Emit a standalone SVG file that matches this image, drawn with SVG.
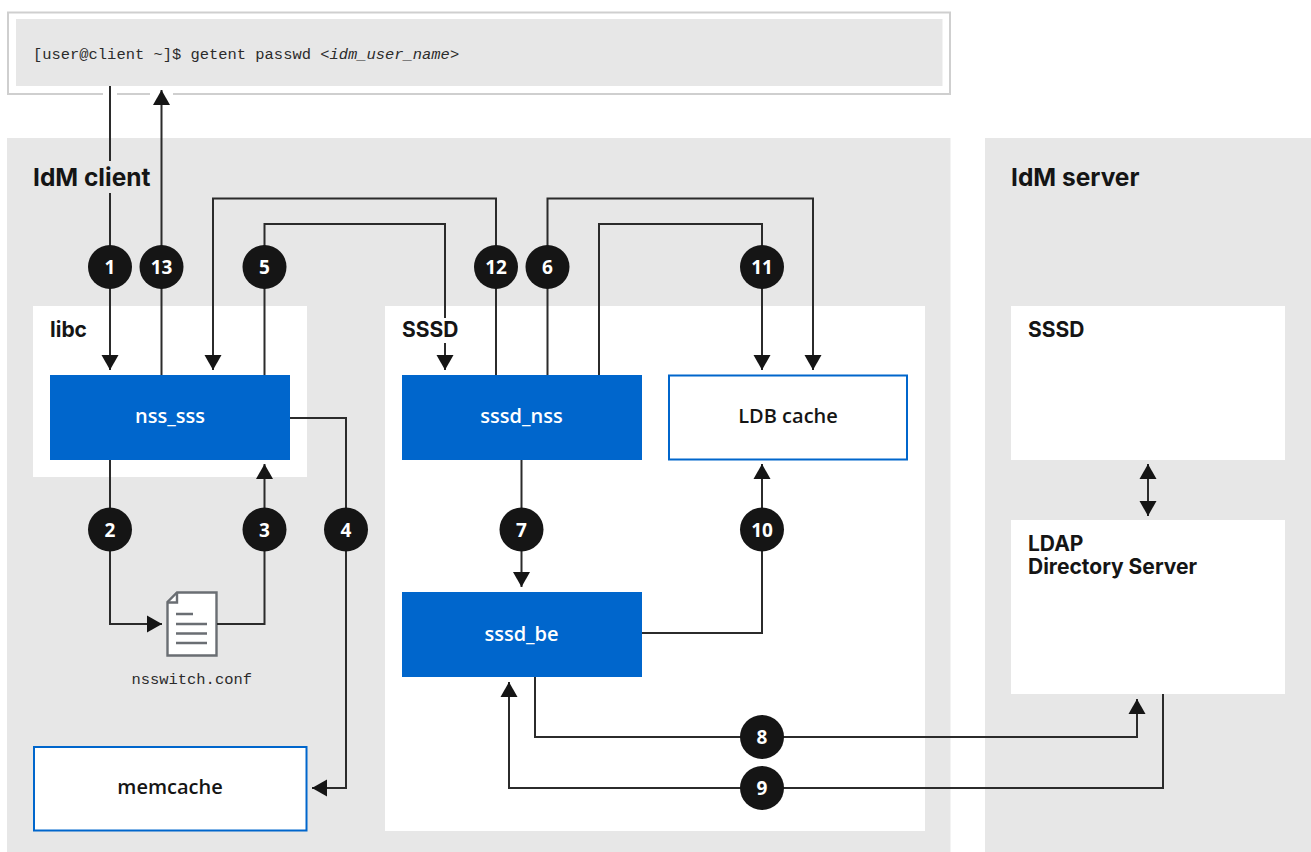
<svg xmlns="http://www.w3.org/2000/svg" width="1311" height="852" viewBox="0 0 1311 852">
<style>
.panel{fill:#e7e7e7}
.white{fill:#fff}
.blue{fill:#0066cc}
.outl{fill:#fff;stroke:#0066cc;stroke-width:2}
.c{fill:none;stroke:#2b2b2b;stroke-width:2;stroke-linejoin:miter}
.arr{marker-end:url(#a)}
.h{font:700 24.5px "Inter",sans-serif;fill:#151515}
.l{font:700 21px "Inter",sans-serif;fill:#151515}
.n{font:600 20px "Open Sans",sans-serif;text-anchor:middle}
.w{fill:#fff}
.d{fill:#151515}
.m{font:15.45px "Liberation Mono",monospace;fill:#2b2b2b}
.b{fill:#151515}
.bt{font:700 19px "Open Sans",sans-serif;fill:#fff;text-anchor:middle}
.ic{fill:none;stroke:#6a6e73;stroke-width:2.4}
</style>
<defs>
<marker id="a" markerUnits="userSpaceOnUse" markerWidth="16" markerHeight="17" refX="15" refY="8.5" orient="auto-start-reverse" overflow="visible"><path d="M0 0L15 8.5L0 17Z" fill="#151515"/></marker>
</defs>
<g id="terminal">
<rect x="8" y="12.500" width="942" height="81.500" fill="#fff" stroke="#cfcfcf" stroke-width="2"/>
<rect class="panel" x="16" y="19" width="926.500" height="67"/>
<rect class="white" x="103" y="90" width="14" height="8"/>
<rect class="white" x="150" y="90" width="23" height="8"/>
<text class="m" x="33" y="59" xml:space="preserve">[user@client ~]$ getent passwd &lt;<tspan font-style="italic">idm_user_name</tspan>&gt;</text>
</g>
<g id="idm-client-panel"><rect class="panel" x="7" y="138" width="943.500" height="714"/><text class="h" x="33" y="185.500">IdM client</text></g>
<g id="idm-server-panel"><rect class="panel" x="985" y="138" width="326" height="714"/><text class="h" x="1011" y="185.500">IdM server</text></g>
<g id="libc"><rect class="white" x="33" y="306" width="274" height="171"/><text class="l" x="50" y="337">libc</text></g>
<g id="sssd-client"><rect class="white" x="385" y="306" width="540" height="525"/><text class="l" x="402" y="337">SSSD</text></g>
<g id="nss_sss"><rect class="blue" x="50" y="375" width="240" height="85"/><text class="n w" x="170" y="423">nss_sss</text></g>
<g id="sssd_nss"><rect class="blue" x="402" y="375" width="240" height="85"/><text class="n w" x="521.500" y="423">sssd_nss</text></g>
<g id="ldb-cache"><rect class="outl" x="669" y="375.500" width="238" height="84"/><text class="n d" x="788" y="423">LDB cache</text></g>
<g id="sssd_be"><rect class="blue" x="402" y="592" width="240" height="85"/><text class="n w" x="521.500" y="641">sssd_be</text></g>
<g id="memcache"><rect class="outl" x="34" y="747" width="272.500" height="83.500"/><text class="n d" x="170" y="794">memcache</text></g>
<g id="sssd-server"><rect class="white" x="1011" y="306" width="274" height="154"/><text class="l" x="1028" y="337">SSSD</text></g>
<g id="ldap"><rect class="white" x="1011" y="520" width="274" height="174"/><text class="l" x="1028" y="551">LDAP</text><text class="l" x="1028" y="574">Directory Server</text></g>
<g id="nsswitch">
<path d="M177 592.500H216.500V655.500H167.500V602Z" fill="#fff" stroke="#6a6e73" stroke-width="2.400"/>
<path class="ic" d="M177 592.500V602.500H167.500"/>
<path class="ic" d="M176 614H193M176 624H207M176 633.500H207M176 643H207"/>
<text class="m" x="131.500" y="684">nsswitch.conf</text>
</g>
<g id="connectors">
<path class="c" d="M110 86V161"/>
<path class="c arr" d="M110 193V370"/>
<path class="c arr" d="M161.500 375V90"/>
<path class="c arr" d="M496 375V198.500H213V370"/>
<path class="c" d="M264.500 375V224H445V318"/>
<path class="c arr" d="M445 343V370"/>
<path class="c arr" d="M547.500 375V198.500H813V370"/>
<path class="c arr" d="M599 375V224H762V370"/>
<path class="c arr" d="M110 460V624H162"/>
<path class="c arr" d="M217 624H264.500V464"/>
<path class="c arr" d="M290 418H346V788H312"/>
<path class="c arr" d="M521.500 460V587"/>
<path class="c arr" d="M642 633H762V464"/>
<path class="c arr" d="M535 677V737H1137V699"/>
<path class="c arr" d="M1163 694V788H509V682"/>
<path class="c arr" d="M1148 490V464"/>
<path class="c arr" d="M1148 490V516"/>
</g>
<g id="badge-1"><circle class="b" cx="110" cy="267" r="22"/><text class="bt" x="110" y="274">1</text></g>
<g id="badge-13"><circle class="b" cx="161.500" cy="267" r="22"/><text class="bt" x="161.500" y="274">13</text></g>
<g id="badge-5"><circle class="b" cx="264.500" cy="267" r="22"/><text class="bt" x="264.500" y="274">5</text></g>
<g id="badge-12"><circle class="b" cx="496" cy="267" r="22"/><text class="bt" x="496" y="274">12</text></g>
<g id="badge-6"><circle class="b" cx="547.500" cy="267" r="22"/><text class="bt" x="547.500" y="274">6</text></g>
<g id="badge-11"><circle class="b" cx="762" cy="267" r="22"/><text class="bt" x="762" y="274">11</text></g>
<g id="badge-2"><circle class="b" cx="110" cy="529.500" r="22"/><text class="bt" x="110" y="536.500">2</text></g>
<g id="badge-3"><circle class="b" cx="264.500" cy="529.500" r="22"/><text class="bt" x="264.500" y="536.500">3</text></g>
<g id="badge-4"><circle class="b" cx="346" cy="529.500" r="22"/><text class="bt" x="346" y="536.500">4</text></g>
<g id="badge-7"><circle class="b" cx="521.500" cy="529.500" r="22"/><text class="bt" x="521.500" y="536.500">7</text></g>
<g id="badge-10"><circle class="b" cx="762" cy="529.500" r="22"/><text class="bt" x="762" y="536.500">10</text></g>
<g id="badge-8"><circle class="b" cx="762" cy="737" r="22"/><text class="bt" x="762" y="744">8</text></g>
<g id="badge-9"><circle class="b" cx="762" cy="788" r="22"/><text class="bt" x="762" y="795">9</text></g>
</svg>
